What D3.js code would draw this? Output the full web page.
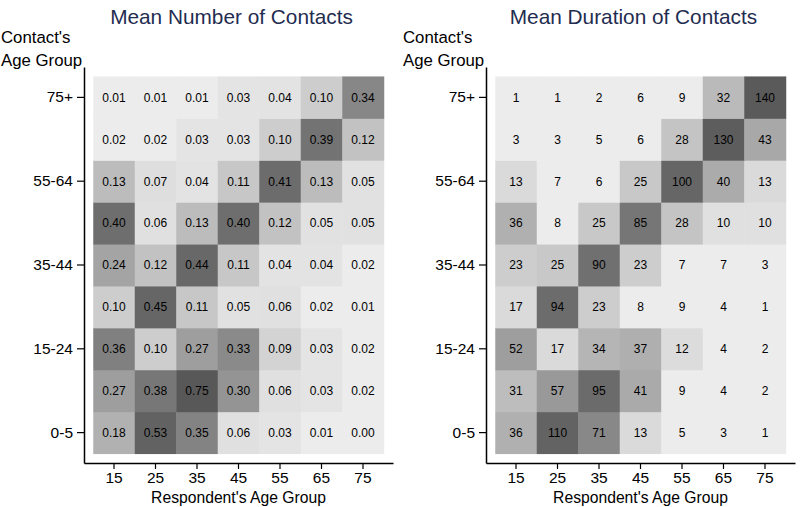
<!DOCTYPE html>
<html><head><meta charset="utf-8">
<script src="https://cdn.jsdelivr.net/npm/d3@7"></script>
<style>body{margin:0;background:#fff}svg{display:block;font-family:"Liberation Sans",Arial,Helvetica,sans-serif}</style>
</head><body><svg id="c" width="800" height="507"></svg>
<script>
const respondentAges = ["15","25","35","45","55","65","75"];
const contactAges = ["0-5","6-14","15-24","25-34","35-44","45-54","55-64","65-74","75+"];
const contactTickLabels = ["0-5","15-24","35-44","55-64","75+"];

// rows follow contactAges (bottom to top), columns follow respondentAges
const meanNumber = [
  [0.18,0.53,0.35,0.06,0.03,0.01,0.00],
  [0.27,0.38,0.75,0.30,0.06,0.03,0.02],
  [0.36,0.10,0.27,0.33,0.09,0.03,0.02],
  [0.10,0.45,0.11,0.05,0.06,0.02,0.01],
  [0.24,0.12,0.44,0.11,0.04,0.04,0.02],
  [0.40,0.06,0.13,0.40,0.12,0.05,0.05],
  [0.13,0.07,0.04,0.11,0.41,0.13,0.05],
  [0.02,0.02,0.03,0.03,0.10,0.39,0.12],
  [0.01,0.01,0.01,0.03,0.04,0.10,0.34]
];
const meanDuration = [
  [36,110,71,13,5,3,1],
  [31,57,95,41,9,4,2],
  [52,17,34,37,12,4,2],
  [17,94,23,8,9,4,1],
  [23,25,90,23,7,7,3],
  [36,8,25,85,28,10,10],
  [13,7,6,25,100,40,13],
  [3,3,5,6,28,130,43],
  [1,1,2,6,9,32,140]
];

const numberColor = d3.scaleLinear()
  .domain([0,0.02,0.03,0.07,0.10,0.13,0.27,0.36,0.40,0.45,0.75])
  .range(["#ececec","#ececec","#e4e4e4","#dedede","#cdcdcd","#bcbcbc","#9e9e9e","#808080","#6e6e6e","#666666","#585858"])
  .clamp(true);
const durationColor = d3.scaleLinear()
  .domain([0,9,10,13,17,25,28,36,43,57,71,90,100,140])
  .range(["#ececec","#ececec","#e0e0e0","#dadada","#dadada","#c8c8c8","#c4c4c4","#b0b0b0","#a8a8a8","#999999","#888888","#707070","#666666","#5a5a5a"])
  .clamp(true);

const svg = d3.select("#c");

function panel(opt){
  const g = svg.append("g");
  const x = d3.scaleBand().domain(respondentAges).range([opt.ax, opt.ax+309]).paddingInner(0).paddingOuter(0.223);
  const y = d3.scaleBand().domain(contactAges).range([463, 67]).paddingInner(0).paddingOuter(0.225);

  const cells = [];
  opt.data.forEach((row,i)=>row.forEach((v,j)=>cells.push({r:contactAges[i], c:respondentAges[j], v})));

  g.selectAll("rect.cell").data(cells).join("rect")
    .attr("x", d=>x(d.c)).attr("y", d=>y(d.r))
    .attr("width", x.bandwidth()+0.5).attr("height", y.bandwidth()+0.5)
    .attr("fill", d=>opt.color(d.v));

  g.selectAll("text.val").data(cells).join("text")
    .attr("x", d=>x(d.c)+x.bandwidth()/2).attr("y", d=>y(d.r)+y.bandwidth()/2)
    .attr("dy","0.36em").attr("text-anchor","middle")
    .attr("font-size", 12).attr("fill","#000").style("fill","#000")
    .text(d=>opt.fmt(d.v));

  const xa = g.append("g").attr("transform","translate(0,463)")
    .call(d3.axisBottom(x).tickSize(6).tickSizeOuter(0).tickPadding(3));
  const ya = g.append("g").attr("transform",`translate(${opt.ax},0)`)
    .call(d3.axisLeft(y).tickValues(contactTickLabels).tickSize(7).tickSizeOuter(0).tickPadding(4));
  [xa,ya].forEach(a=>{
    a.selectAll("text").attr("font-size",15.5).attr("fill","#000").attr("font-family","Liberation Sans, Arial, sans-serif");
    a.selectAll("line").attr("stroke","#000").attr("stroke-width",1.2);
    a.select(".domain").attr("stroke","#000").attr("stroke-width",1.5);
  });

  g.append("text").attr("x", opt.ax+154.5).attr("y", 503).attr("text-anchor","middle")
    .attr("font-size",15.7).attr("fill","#000").text("Respondent's Age Group");

  g.append("text").attr("x", opt.ax-84+1).attr("y", 43).attr("font-size",16.8).attr("fill","#000").text("Contact's");
  g.append("text").attr("x", opt.ax-84+1).attr("y", 66).attr("font-size",16.8).attr("fill","#000").text("Age Group");

  g.append("text").attr("x", opt.ax+147.5).attr("y", 23.5).attr("text-anchor","middle")
    .attr("font-size",20.8).attr("fill","#1f2d50").text(opt.title);
}

panel({ax:84, data:meanNumber, color:numberColor, fmt:d3.format(".2f"), title:"Mean Number of Contacts"});
panel({ax:486, data:meanDuration, color:durationColor, fmt:d=>String(d), title:"Mean Duration of Contacts"});
</script>
</body></html>
